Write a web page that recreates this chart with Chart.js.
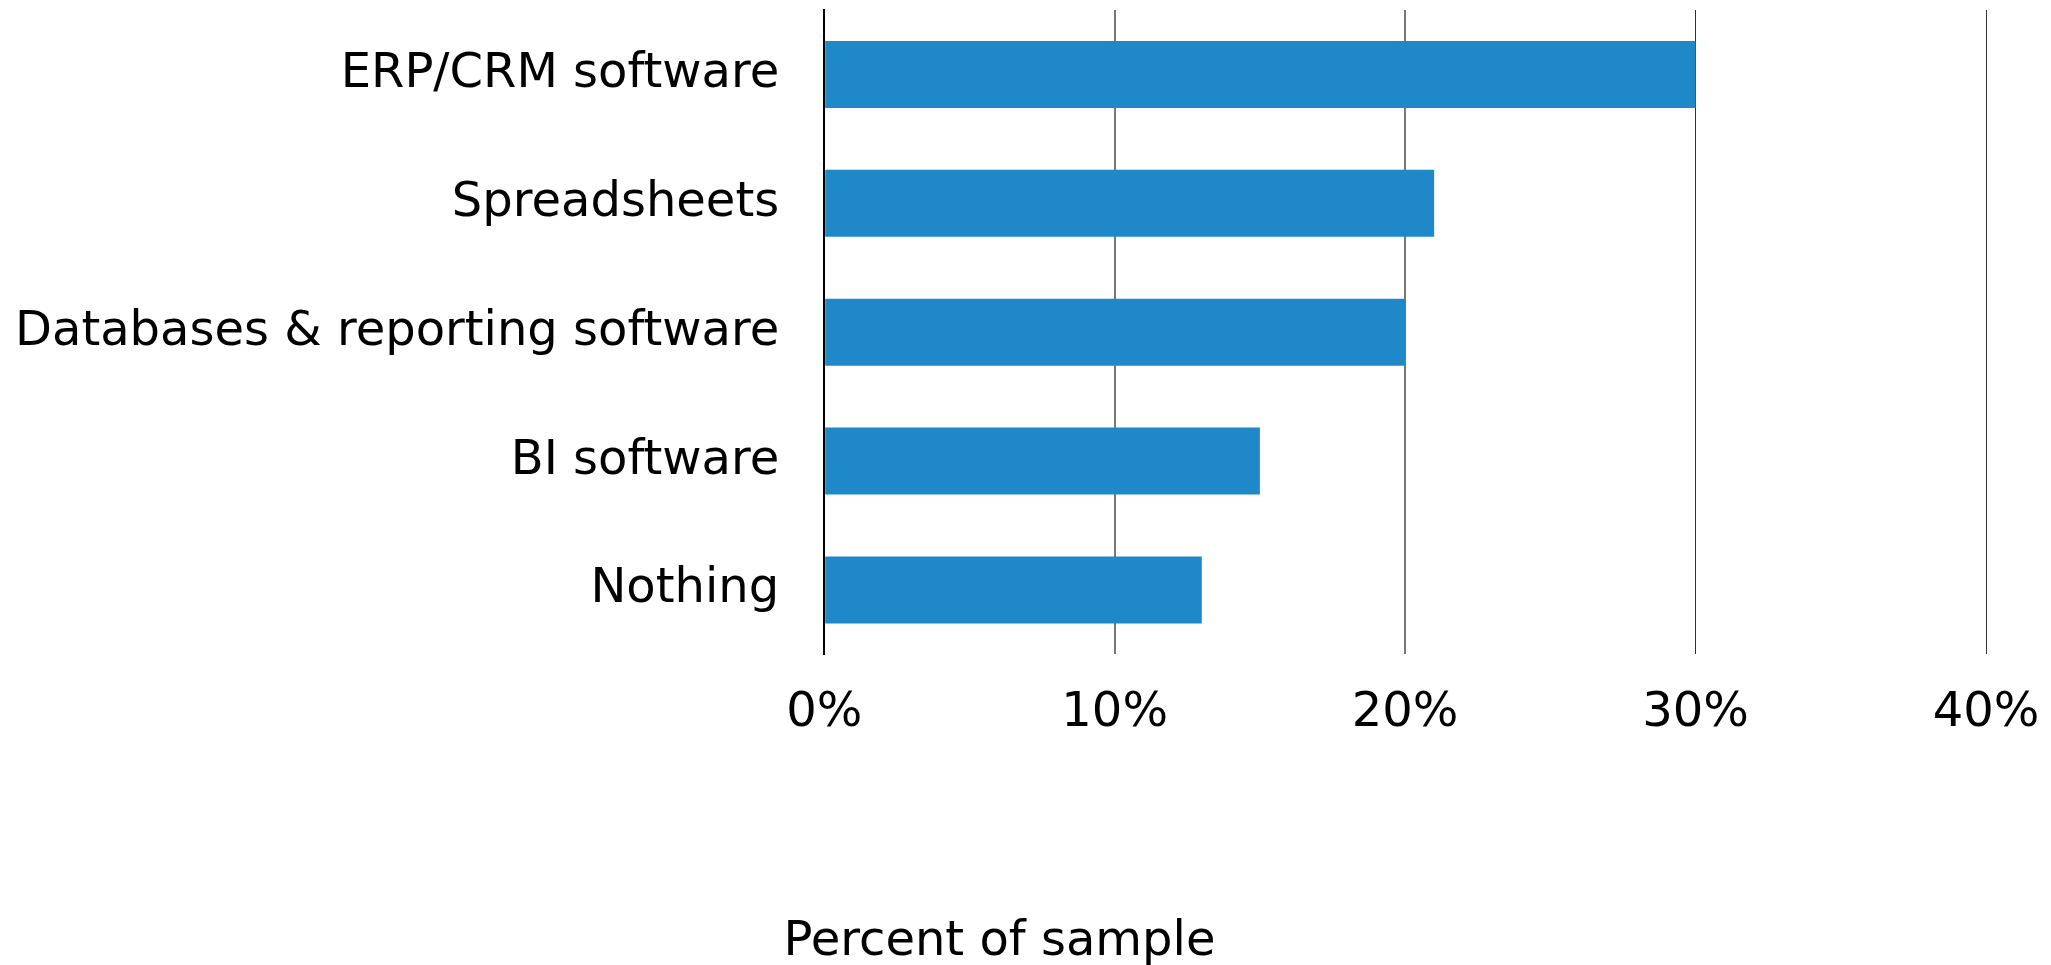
<!DOCTYPE html>
<html>
<head>
<meta charset="utf-8">
<title>Percent of sample</title>
<script src="https://cdn.jsdelivr.net/npm/chart.js@4/dist/chart.umd.min.js"></script>
<style>
    html, body { margin: 0; padding: 0; background: #fff; }
    .wrap { width: 2051px; height: 965px; position: relative; }
</style>
</head>
<body>
<div class="wrap"><canvas id="chartSample"></canvas></div>
<script>
// ── Data ─────────────────────────────────
const categories = [
    'ERP/CRM software',
    'Spreadsheets',
    'Databases & reporting software',
    'BI software',
    'Nothing'
];
const percentValues = [30, 21, 20, 15, 13];
const xTicks = [0, 10, 20, 30, 40];
const xTitle = 'Percent of sample';

const FONT = "'DejaVu Sans', sans-serif";
const BAR_BLUE = '#1f88c8';

// ── Axis title centred under the whole figure ──
const figureTitle = {
    id: 'figureTitle',
    afterDraw: function(chart) {
        const ctx = chart.ctx;
        ctx.save();
        ctx.font = '48px ' + FONT;
        ctx.fillStyle = '#000';
        ctx.textAlign = 'center';
        ctx.textBaseline = 'alphabetic';
        ctx.fillText(xTitle, chart.width / 2 - 26, chart.height - 10);
        ctx.restore();
    }
};

// ── Chart.js: horizontal bar ─────────────
new Chart(document.getElementById('chartSample'), {
    type: 'bar',
    data: {
        labels: categories,
        datasets: [{
            data: percentValues,
            backgroundColor: BAR_BLUE,
            borderWidth: 0,
            categoryPercentage: 1,
            barPercentage: 0.52
        }]
    },
    options: {
        indexAxis: 'y',
        responsive: true,
        maintainAspectRatio: false,
        animation: false,
        layout: {
            padding: { left: -30, right: 65, top: 10, bottom: 193 }
        },
        plugins: {
            legend: { display: false },
            tooltip: { enabled: false }
        },
        scales: {
            x: {
                min: xTicks[0],
                max: xTicks[xTicks.length - 1],
                afterBuildTicks: function(axis) {
                    axis.ticks = xTicks.map(function(v) { return { value: v }; });
                },
                // label overhang is covered by layout padding
                afterFit: function(axis) {
                    axis.paddingLeft = 0;
                    axis.paddingRight = 0;
                },
                border: { display: false },
                grid: {
                    color: function(c) { return c.index < 3 ? '#777' : '#333'; },
                    lineWidth: function(c) { return c.index < 3 ? 2 : 1; },
                    drawTicks: false
                },
                ticks: {
                    padding: 30,
                    maxRotation: 0,
                    color: '#000',
                    font: { family: FONT, size: 48 },
                    callback: function(val) { return val + '%'; }
                },
                title: { display: false }
            },
            y: {
                afterFit: function(axis) {
                    axis.paddingTop = 0;
                    axis.paddingBottom = 0;
                },
                border: { display: true, color: '#000', width: 2 },
                grid: { display: false, drawTicks: false },
                ticks: {
                    padding: 45,
                    color: '#000',
                    font: { family: FONT, size: 48 }
                }
            }
        }
    },
    plugins: [figureTitle]
});
</script>
</body>
</html>
